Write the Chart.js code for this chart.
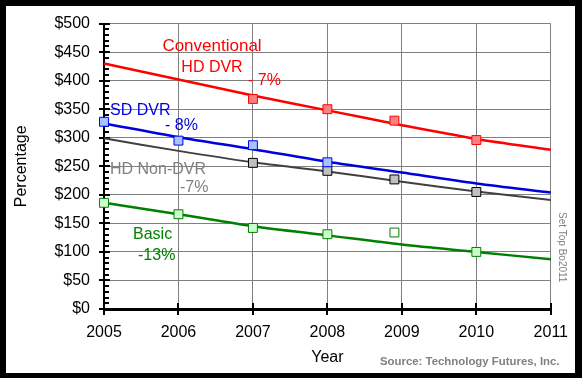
<!DOCTYPE html>
<html>
<head>
<meta charset="utf-8">
<script src="https://cdn.jsdelivr.net/npm/chart.js@4/dist/chart.umd.min.js"></script>
<style>
  html, body { margin: 0; padding: 0; background: #000; }
  #wrap { width: 582px; height: 378px; }
</style>
</head>
<body>
<div id="wrap"><canvas id="stbChart" width="582" height="378"></canvas></div>
<script>
// x positions and axis ticks
const years = [2005, 2006, 2007, 2008, 2009, 2010, 2011];
const priceTicks = [0, 50, 100, 150, 200, 250, 300, 350, 400, 450, 500];

// observed prices (the "2009" readings sit just left of the 2009 line)
const convYears = [2007, 2008, 2008.9, 2010];
const convValues = [368, 350, 330, 296];
const sdYears = [2005, 2006, 2007, 2008];
const sdValues = [328, 295, 287, 257];
const nonDvrYears = [2007, 2008, 2008.9, 2010];
const nonDvrValues = [256, 242, 227, 205];
const basicYears = [2005, 2006, 2007, 2008, 2008.9, 2010];
const basicValues = [186, 166, 142, 131, 134, 100];

// trend lines, read at each year
const convTrend = [430, 402, 374, 348, 322, 298, 279];
const sdTrend = [325, 301, 280, 258, 239, 220, 204];
const nonDvrTrend = [299, 277, 257, 241, 223, 206, 191];
const basicTrend = [186, 166, 145, 129, 113, 100, 87];

const FONT = '"Liberation Sans", Arial, sans-serif';

function points(xs, ys) {
    return xs.map((x, i) => ({ x: x, y: ys[i] }));
}

function markers(label, xs, ys, fill, border) {
    return {
        label: label,
        data: points(xs, ys),
        showLine: false,
        pointStyle: 'rect',
        pointRadius: 6.3,
        pointBackgroundColor: fill,
        pointBorderColor: border,
        pointBorderWidth: 1,
        clip: false,
        order: 0
    };
}

function trend(label, ys, color, width) {
    return {
        label: label,
        data: points(years, ys),
        showLine: true,
        fill: false,
        pointRadius: 0,
        borderColor: color,
        borderWidth: width,
        tension: 0.3,
        clip: false,
        order: 1
    };
}

// black frame with white panel
const framePlugin = {
    id: 'frame',
    beforeDraw(chart) {
        const ctx = chart.ctx;
        ctx.save();
        ctx.fillStyle = '#000';
        ctx.fillRect(0, 0, chart.width, chart.height);
        ctx.fillStyle = '#fff';
        ctx.fillRect(6, 6, 569, 367);
        ctx.restore();
    }
};

// crossing tick marks, minor ticks every $10
const tickPlugin = {
    id: 'axisTicks',
    beforeDatasetsDraw(chart) {
        const ctx = chart.ctx;
        const x = chart.scales.x, y = chart.scales.y;
        const left = chart.chartArea.left, bottom = chart.chartArea.bottom;
        ctx.save();
        ctx.strokeStyle = '#000';
        ctx.lineWidth = 2;
        ctx.beginPath();
        for (let v = 0; v <= 500; v += 10) {
            const py = Math.round(y.getPixelForValue(v));
            if (v % 50 === 0) {
                ctx.moveTo(left - 5, py);
                ctx.lineTo(left + 6, py);
            } else {
                ctx.moveTo(left, py);
                ctx.lineTo(left + 5, py);
            }
        }
        years.forEach(yr => {
            const px = Math.round(x.getPixelForValue(yr));
            ctx.moveTo(px, bottom - 6);
            ctx.lineTo(px, bottom + 6);
        });
        ctx.stroke();
        ctx.restore();
    }
};

// series labels and notes
const labelPlugin = {
    id: 'labels',
    afterDraw(chart) {
        const ctx = chart.ctx;
        ctx.save();
        ctx.textBaseline = 'alphabetic';

        ctx.font = '17px ' + FONT;
        ctx.fillStyle = '#ff0000';
        ctx.textAlign = 'center';
        ctx.fillText('Conventional', 212, 51);
        ctx.font = '16px ' + FONT;
        ctx.fillText('HD DVR', 212, 72);
        ctx.textAlign = 'left';
        ctx.fillText('- 7%', 248, 85);

        ctx.fillStyle = '#0000dd';
        ctx.fillText('SD DVR', 110, 115);
        ctx.fillText('- 8%', 165, 130);

        ctx.fillStyle = '#808080';
        ctx.fillText('HD Non-DVR', 110, 174);
        ctx.fillText('-7%', 180, 192);

        ctx.fillStyle = '#008000';
        ctx.fillText('Basic', 133, 239);
        ctx.fillText('-13%', 138, 260);

        ctx.fillStyle = '#808080';
        ctx.font = 'bold 11.4px ' + FONT;
        ctx.fillText('Source: Technology Futures, Inc.', 380, 365);

        ctx.font = '10px ' + FONT;
        ctx.translate(559, 212);
        ctx.rotate(Math.PI / 2);
        ctx.fillText('Set Top Bo2011', 0, 0);
        ctx.restore();
    }
};

new Chart(document.getElementById('stbChart'), {
    type: 'scatter',
    data: {
        datasets: [
            markers('Conventional HD DVR', convYears, convValues, '#ff8080', '#ff0000'),
            markers('SD DVR', sdYears, sdValues, '#a4c4ff', '#0000ff'),
            markers('HD Non-DVR', nonDvrYears, nonDvrValues, '#c0c0c0', '#000000'),
            Object.assign(markers('Basic', basicYears, basicValues, '#ccffcc', '#008000'), {
                pointBackgroundColor: c => (c.raw && c.raw.x === 2008.9) ? '#ffffff' : '#ccffcc'
            }),
            trend('Conventional HD DVR trend', convTrend, '#ff0000', 2.5),
            trend('SD DVR trend', sdTrend, '#0000dd', 2.5),
            trend('HD Non-DVR trend', nonDvrTrend, '#404040', 2),
            trend('Basic trend', basicTrend, '#008000', 2.5)
        ]
    },
    options: {
        responsive: false,
        devicePixelRatio: 1,
        animation: false,
        layout: { padding: { left: 6, right: 29, top: 20, bottom: 6 } },
        plugins: {
            legend: { display: false },
            tooltip: { enabled: false }
        },
        scales: {
            x: {
                type: 'linear',
                min: 2005,
                max: 2011,
                afterBuildTicks: s => { s.ticks = years.map(v => ({ value: v })); },
                afterFit: s => { s.height = 63; },
                ticks: {
                    callback: v => String(v),
                    color: '#000',
                    font: { family: FONT, size: 16 },
                    padding: 14,
                    maxRotation: 0
                },
                grid: { color: '#808080', lineWidth: 1, drawTicks: false },
                border: { display: true, color: '#000', width: 3 },
                title: {
                    display: true,
                    text: 'Year',
                    color: '#000',
                    font: { family: FONT, size: 16 },
                    padding: { top: 0, bottom: 5 }
                }
            },
            y: {
                min: 0,
                max: 500,
                afterBuildTicks: s => { s.ticks = priceTicks.map(v => ({ value: v })); },
                afterFit: s => { s.width = 98; },
                ticks: {
                    callback: v => '$' + v,
                    color: '#000',
                    font: { family: FONT, size: 16 },
                    padding: 14
                },
                grid: { color: '#808080', lineWidth: 1, drawTicks: false },
                border: { display: true, color: '#000', width: 2 },
                title: {
                    display: true,
                    text: 'Percentage',
                    color: '#000',
                    font: { family: FONT, size: 16 },
                    padding: { top: 6, bottom: 0 }
                }
            }
        }
    },
    plugins: [framePlugin, tickPlugin, labelPlugin]
});
</script>
</body>
</html>
